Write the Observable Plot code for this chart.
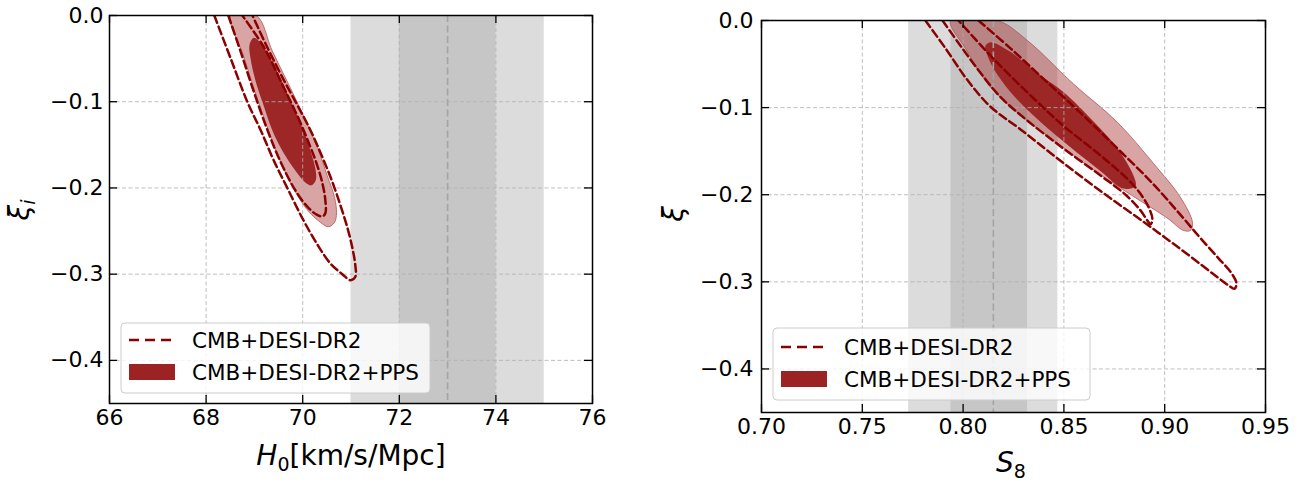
<!DOCTYPE html>
<html>
<head>
<meta charset="utf-8">
<script src="https://cdn.jsdelivr.net/npm/d3@7"></script>
<script src="https://cdn.jsdelivr.net/npm/@observablehq/plot@0.6"></script>
<style>
  body { margin: 0; background: #fff; }
  #wrap { position: relative; width: 1304px; height: 482px; overflow: hidden; font-family: "DejaVu Sans", sans-serif; }
  .panel { position: absolute; top: 0; }
  #overlay { position: absolute; left: 0; top: 0; pointer-events: none; }
</style>
</head>
<body>
<div id="wrap">
  <div class="panel" id="left" style="left:0px"></div>
  <div class="panel" id="right" style="left:650px"></div>
</div>
<script>
// ---------- axes ----------
const h0Domain = [66, 76];
const h0Ticks = [66, 68, 70, 72, 74, 76];
const s8Domain = [0.70, 0.95];
const s8Ticks = [0.70, 0.75, 0.80, 0.85, 0.90, 0.95];
const xiDomain = [-0.45, 0.0];
const xiTicks = [0.0, -0.1, -0.2, -0.3, -0.4];

// ---------- reference bands ----------
const h0Band2 = [71, 75];
const h0Band1 = [72, 74];
const h0Center = [73];
const s8Band2 = [0.773, 0.847];
const s8Band1 = [0.794, 0.832];
const s8Center = [0.815];

// ---------- left panel contours (H0, xi_i) ----------
// CMB+DESI-DR2, 2 sigma (dashed)
const h0DR2OuterX = [68.17, 68.51, 68.86, 69.13, 69.40, 69.69, 70.02, 70.33, 70.58, 70.82, 70.99, 71.09, 71.09, 71.03, 70.93, 70.78, 70.60, 70.39, 70.16, 69.89, 69.60, 69.25, 68.96];
const h0DR2OuterY = [0, -0.050, -0.101, -0.133, -0.168, -0.201, -0.238, -0.268, -0.288, -0.300, -0.307, -0.303, -0.290, -0.270, -0.247, -0.220, -0.191, -0.162, -0.133, -0.104, -0.074, -0.035, 0];
// CMB+DESI-DR2, 1 sigma (dashed)
const h0DR2InnerX = [68.46, 68.71, 68.98, 69.27, 69.56, 69.85, 70.10, 70.29, 70.41, 70.47, 70.47, 70.41, 70.29, 70.12, 69.91, 69.62, 69.21, 68.75];
const h0DR2InnerY = [0, -0.041, -0.087, -0.133, -0.172, -0.203, -0.222, -0.231, -0.233, -0.229, -0.215, -0.195, -0.172, -0.147, -0.119, -0.085, -0.038, 0];
// CMB+DESI-DR2+PPS, 2 sigma (light fill)
const h0PPS2X = [68.51, 68.77, 69.04, 69.29, 69.56, 69.85, 70.12, 70.37, 70.53, 70.66, 70.70, 70.66, 70.51, 70.31, 70.04, 69.71, 69.37, 69.04];
const h0PPS2Y = [0, -0.046, -0.093, -0.133, -0.172, -0.205, -0.227, -0.240, -0.245, -0.240, -0.229, -0.211, -0.186, -0.154, -0.119, -0.080, -0.041, 0];
// CMB+DESI-DR2+PPS, 1 sigma (dark fill)
const h0PPS1X = [68.98, 68.90, 68.92, 69.02, 69.17, 69.37, 69.60, 69.85, 70.06, 70.18, 70.27, 70.27, 70.18, 70.04, 69.81, 69.56, 69.29, 69.08];
const h0PPS1Y = [-0.026, -0.034, -0.050, -0.075, -0.101, -0.133, -0.159, -0.180, -0.194, -0.197, -0.191, -0.180, -0.160, -0.137, -0.107, -0.075, -0.046, -0.029];

// ---------- right panel contours (S8, xi) ----------
const s8DR2OuterX = [0.7813, 0.7913, 0.8017, 0.8136, 0.8285, 0.8483, 0.8701, 0.8930, 0.9128, 0.9252, 0.9316, 0.9346, 0.9356, 0.9331, 0.9267, 0.9178, 0.9093, 0.8944, 0.8766, 0.8582, 0.8399, 0.8235, 0.8076];
const s8DR2OuterY = [0, -0.032, -0.067, -0.099, -0.125, -0.161, -0.199, -0.237, -0.271, -0.293, -0.304, -0.308, -0.302, -0.290, -0.273, -0.250, -0.227, -0.188, -0.147, -0.106, -0.067, -0.032, 0];
const s8DR2InnerX = [0.7898, 0.7987, 0.8086, 0.8186, 0.8319, 0.8498, 0.8682, 0.8806, 0.8880, 0.8915, 0.8930, 0.8939, 0.8915, 0.8845, 0.8682, 0.8498, 0.8334, 0.8151, 0.7977];
const s8DR2InnerY = [0, -0.029, -0.060, -0.088, -0.115, -0.147, -0.178, -0.200, -0.218, -0.230, -0.234, -0.228, -0.212, -0.189, -0.155, -0.121, -0.086, -0.044, 0];
const s8PPS2X = [0.7938, 0.8017, 0.8116, 0.8235, 0.8498, 0.8682, 0.8845, 0.9014, 0.9093, 0.9128, 0.9138, 0.9078, 0.8944, 0.8766, 0.8548, 0.8319, 0.8171];
const s8PPS2Y = [0, -0.034, -0.071, -0.099, -0.146, -0.177, -0.202, -0.227, -0.241, -0.241, -0.232, -0.203, -0.164, -0.117, -0.073, -0.023, 0];
const s8PPS1X = [0.8111, 0.8136, 0.8220, 0.8384, 0.8498, 0.8647, 0.8766, 0.8845, 0.8855, 0.8796, 0.8682, 0.8498, 0.8349, 0.8235, 0.8151, 0.8116];
const s8PPS1Y = [-0.029, -0.025, -0.034, -0.063, -0.082, -0.116, -0.147, -0.178, -0.190, -0.193, -0.173, -0.139, -0.109, -0.082, -0.055, -0.037];

// ---------- text ----------
const legendLabels = ["CMB+DESI-DR2", "CMB+DESI-DR2+PPS"];

// ---------- styles ----------
const DARKRED = "#8b0000";
const FILL1 = "#9b2323";
const FILL2 = "#a83030";
const FONT = "DejaVu Sans";
const DASH = "8,4";

const pts = (xs, ys) => xs.map((x, i) => ({x, y: ys[i]}));

function panel(cfg) {
  const {width, m, xDomain, xTicks, xFmt, band2, band1, center, outer, inner, pps2, pps1} = cfg;
  const height = 482;
  const H = height - m.top - m.bottom;
  const W = width - m.left - m.right;
  const T = 8;
  return Plot.plot({
    width, height,
    marginLeft: m.left, marginRight: m.right, marginTop: m.top, marginBottom: m.bottom,
    x: {domain: xDomain},
    y: {domain: xiDomain},
    style: {fontFamily: FONT, background: "transparent", color: "black", overflow: "visible"},
    marks: [
      Plot.rect([band2], {x1: d => d[0], x2: d => d[1], y1: xiDomain[0], y2: xiDomain[1], fill: "#dcdcdc"}),
      Plot.rect([band1], {x1: d => d[0], x2: d => d[1], y1: xiDomain[0], y2: xiDomain[1], fill: "#c6c6c6"}),
      Plot.line(pps2, {x: "x", y: "y", curve: "catmull-rom-closed", fill: FILL2, fillOpacity: 0.44, stroke: "#b04f4f", strokeOpacity: 0.75, strokeWidth: 1, clip: true}),
      Plot.line(pps1, {x: "x", y: "y", curve: "catmull-rom-closed", fill: FILL1, fillOpacity: 0.97, stroke: "none", clip: true}),
      Plot.gridX(xTicks, {stroke: "#b0b0b0", strokeOpacity: 0.9, strokeWidth: 0.9, strokeDasharray: "4,2.5"}),
      Plot.gridY(xiTicks, {stroke: "#b0b0b0", strokeOpacity: 0.9, strokeWidth: 0.9, strokeDasharray: "4,2.5"}),
      Plot.ruleX(center, {stroke: "#a4a4a4", strokeWidth: 1.6, strokeDasharray: "7,3.5"}),
      Plot.line(outer, {x: "x", y: "y", curve: "catmull-rom", stroke: DARKRED, strokeWidth: 2.5, strokeDasharray: DASH, clip: true}),
      Plot.line(inner, {x: "x", y: "y", curve: "catmull-rom", stroke: DARKRED, strokeWidth: 2.5, strokeDasharray: DASH, clip: true}),
      // inward ticks on all four sides
      Plot.tickX(xTicks, {x: d => d, insetTop: H - T, stroke: "black", strokeWidth: 1.3}),
      Plot.tickX(xTicks, {x: d => d, insetBottom: H - T, stroke: "black", strokeWidth: 1.3}),
      Plot.tickY(xiTicks, {y: d => d, insetRight: W - T, stroke: "black", strokeWidth: 1.3}),
      Plot.tickY(xiTicks, {y: d => d, insetLeft: W - T, stroke: "black", strokeWidth: 1.3}),
      Plot.axisX(xTicks, {anchor: "bottom", tickSize: 0, tickPadding: 6, tickFormat: xFmt, fontSize: 22, fill: "black", label: null}),
      Plot.axisY(xiTicks, {anchor: "left", tickSize: 0, tickPadding: cfg.yPad, tickFormat: d3.format(".1f"), fontSize: 22, fill: "black", label: null}),
      Plot.frame({stroke: "black", strokeWidth: 1.5})
    ]
  });
}

document.getElementById("left").appendChild(panel({
  width: 650, m: {left: 109, right: 58, top: 15, bottom: 79}, yPad: 6,
  xDomain: h0Domain, xTicks: h0Ticks, xFmt: d3.format("d"),
  band2: h0Band2, band1: h0Band1, center: h0Center,
  outer: pts(h0DR2OuterX, h0DR2OuterY), inner: pts(h0DR2InnerX, h0DR2InnerY),
  pps2: pts(h0PPS2X, h0PPS2Y), pps1: pts(h0PPS1X, h0PPS1Y)
}));

document.getElementById("right").appendChild(panel({
  width: 654, m: {left: 111, right: 39, top: 20, bottom: 70}, yPad: 8,
  xDomain: s8Domain, xTicks: s8Ticks, xFmt: d3.format(".2f"),
  band2: s8Band2, band1: s8Band1, center: s8Center,
  outer: pts(s8DR2OuterX, s8DR2OuterY), inner: pts(s8DR2InnerX, s8DR2InnerY),
  pps2: pts(s8PPS2X, s8PPS2Y), pps1: pts(s8PPS1X, s8PPS1Y)
}));

// ---------- overlay: axis titles and legends ----------
function legend(x, y, w, h, rows) {
  const fs = 21.5;
  const base = (c) => c + 0.36 * fs;
  return `
  <rect x="${x}" y="${y}" width="${w}" height="${h}" rx="4" fill="white" fill-opacity="0.8" stroke="#cccccc" stroke-width="1"/>
  <line x1="${x + 8}" x2="${x + 53}" y1="${rows[0]}" y2="${rows[0]}" stroke="${DARKRED}" stroke-width="2.5" stroke-dasharray="10,6"/>
  <rect x="${x + 8}" y="${rows[1] - 8}" width="46" height="16" fill="${FILL1}"/>
  <text x="${x + 71}" y="${base(rows[0])}" font-size="${fs}" font-family="${FONT}">${legendLabels[0]}</text>
  <text x="${x + 71}" y="${base(rows[1])}" font-size="${fs}" font-family="${FONT}">${legendLabels[1]}</text>`;
}

const overlay = `
<svg id="overlay" width="1304" height="482" xmlns="http://www.w3.org/2000/svg">
  ${legend(121, 323, 309, 70, [340, 372])}
  ${legend(773, 328, 317, 72, [347, 379])}
  <text x="351" y="465" text-anchor="middle" font-family="${FONT}" font-size="28"><tspan font-style="italic">H</tspan><tspan font-size="19" dy="6">0</tspan><tspan dy="-6">[km/s/Mpc]</tspan></text>
  <text x="1011" y="472" text-anchor="middle" font-family="${FONT}" font-size="28"><tspan font-style="italic">S</tspan><tspan font-size="19" dy="6">8</tspan></text>
  <text transform="translate(29,210) rotate(-90)" text-anchor="middle" font-family="${FONT}" font-size="28"><tspan font-style="italic">ξ</tspan><tspan font-style="italic" font-size="19" dy="6">i</tspan></text>
  <text transform="translate(683,214) rotate(-90)" text-anchor="middle" font-family="${FONT}" font-size="28" font-style="italic">ξ</text>
</svg>`;
document.getElementById("wrap").insertAdjacentHTML("beforeend", overlay);
</script>
</body>
</html>
